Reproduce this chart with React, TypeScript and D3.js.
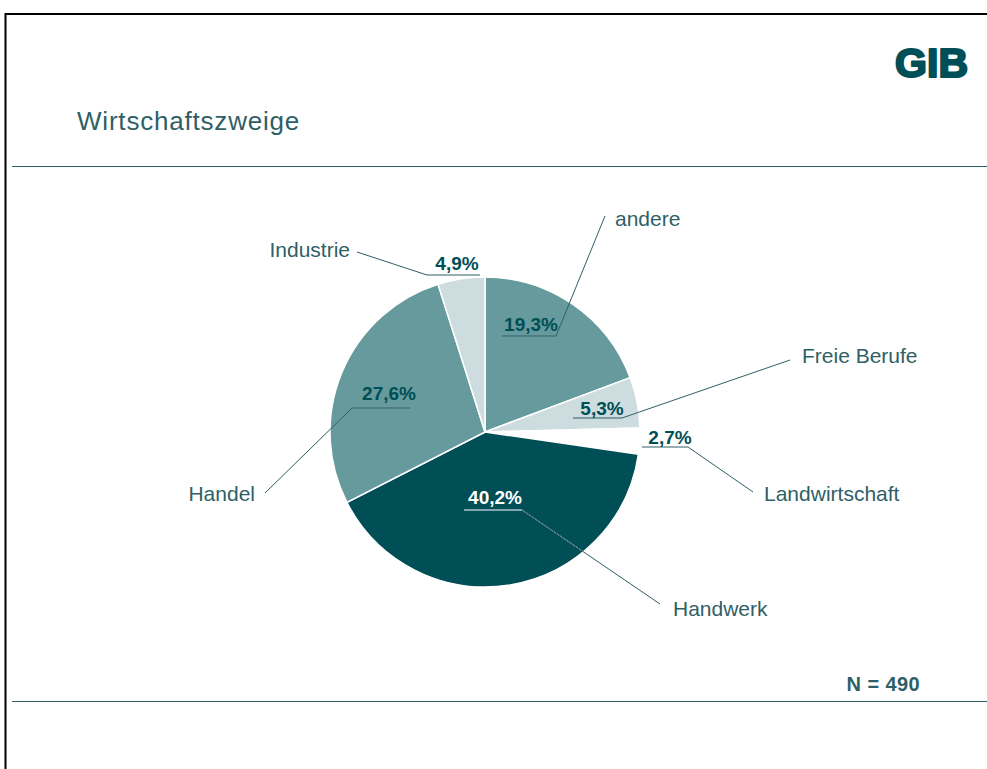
import React from 'react';
import * as d3 from 'd3';

// Wirtschaftszweige der Befragten (N = 490)
const categories = ['andere', 'Freie Berufe', 'Landwirtschaft', 'Handwerk', 'Handel', 'Industrie'];
const shares = [19.3, 5.3, 2.7, 40.2, 27.6, 4.9];
const sampleSize = 490;

const sliceColors = ['#669a9c', '#cddcdf', '#ffffff', '#004e56', '#669a9c', '#cddcdf'];

// label layout relative to the pie centre: percent text, underline + leader, name text
const labelLayout = [
  { pct: [46, -101], line: [[17, -96], [71, -96], [120, -216]], name: [130, -207], anchor: 'start', pctFill: '#004e56' },
  { pct: [117, -17], line: [[88, -14], [137, -14], [305, -72]], name: [317, -70], anchor: 'start', pctFill: '#004e56' },
  { pct: [185, 12], line: [[157, 15], [203, 15], [268, 60]], name: [279, 68], anchor: 'start', pctFill: '#004e56' },
  { pct: [10, 72], line: [[-21, 78], [37, 78], [175, 172]], name: [188, 183], anchor: 'start', pctFill: '#ffffff' },
  { pct: [-96, -32], line: [[-75, -24], [-133, -24], [-220, 61]], name: [-230, 68], anchor: 'end', pctFill: '#004e56' },
  { pct: [-28, -162], line: [[-5, -157], [-58, -157], [-128, -180]], name: [-135, -176], anchor: 'end', pctFill: '#004e56' },
];

const fmt = (v: number) => v.toFixed(1).replace('.', ',') + '%';

export default function App() {
  const width = 987;
  const height = 769;
  const cx = 485;
  const cy = 432;
  const radius = 155;
  const textColor = '#2f5f66';
  const font = '"Liberation Sans", Arial, sans-serif';

  const data = categories.map((c, i) => ({ name: c, value: shares[i], color: sliceColors[i] }));
  const pie = d3.pie<{ name: string; value: number; color: string }>().sort(null).value(d => d.value);
  const arc = d3.arc<d3.PieArcDatum<{ name: string; value: number; color: string }>>()
    .innerRadius(0)
    .outerRadius(radius);
  const arcs = pie(data);
  const line = d3.line();

  return (
    <div style={{ position: 'fixed', left: 0, top: 0 }}>
      <svg width={width} height={height} viewBox={`0 0 ${width} ${height}`} style={{ display: 'block', background: '#fff' }}>
        {/* frame */}
        <line x1={5} y1={14} x2={width} y2={14} stroke="#000" strokeWidth={2} />
        <line x1={5.5} y1={13} x2={5.5} y2={height} stroke="#000" strokeWidth={2} />
        <line x1={12} y1={166.5} x2={width} y2={166.5} stroke="#2f5f66" strokeWidth={1} />
        <line x1={12} y1={701.5} x2={width} y2={701.5} stroke="#2f5f66" strokeWidth={1} />

        {/* logo */}
        <text x={968} y={77} textAnchor="end" fontFamily={font} fontWeight="bold" fontSize={41}
          fill="#004e56" stroke="#004e56" strokeWidth={2.2} strokeLinejoin="round">GIB</text>

        <text x={77} y={130} fontFamily={font} fontSize={26} letterSpacing={0.8} fill={textColor}>Wirtschaftszweige</text>

        <g transform={`translate(${cx},${cy})`}>
          {arcs.map((a, i) => (
            <path key={i} d={arc(a) || ''} fill={a.data.color} stroke="#fff" strokeWidth={1.5} />
          ))}
          {arcs.map((a, i) => {
            const l = labelLayout[i];
            return (
              <g key={'l' + i}>
                <path d={line(l.line as [number, number][]) || ''} fill="none"
                  stroke={i === 3 ? '#ffffff' : textColor} strokeWidth={1} />
                {i === 3 && (
                  <path d={line([l.line[1], l.line[2]] as [number, number][]) || ''} fill="none"
                    stroke={textColor} strokeWidth={1} />
                )}
                <text x={l.pct[0]} y={l.pct[1]} textAnchor="middle" fontFamily={font} fontWeight="bold"
                  fontSize={19} fill={l.pctFill}>{fmt(a.data.value)}</text>
                <text x={l.name[0]} y={l.name[1] + 1} textAnchor={l.anchor as 'start' | 'end'} fontFamily={font}
                  fontSize={21} fill={textColor}>{a.data.name}</text>
              </g>
            );
          })}
        </g>

        <text x={920} y={691} textAnchor="end" fontFamily={font} fontWeight="bold" fontSize={20}
          letterSpacing={0.4} fill={textColor}>
          N = {sampleSize}
        </text>
      </svg>
    </div>
  );
}
